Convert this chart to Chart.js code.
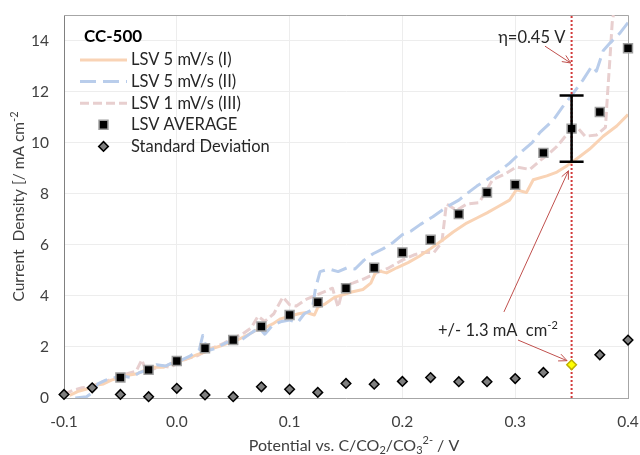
<!DOCTYPE html>
<html>
<head>
<meta charset="utf-8">
<script src="https://cdn.jsdelivr.net/npm/chart.js@4.4.1/dist/chart.umd.min.js"></script>
<style>
  html, body { margin: 0; padding: 0; background: #ffffff; }
  #wrap { width: 640px; height: 455px; }
</style>
</head>
<body>
<div id="wrap"><canvas id="lsv" width="640" height="455"></canvas></div>
<script>
// ---- LSV run I : 5 mV/s ----
const lsv1Potential = [-0.095, -0.088, -0.08, -0.072, -0.065, -0.058, -0.05, -0.042, -0.035, -0.028, -0.02, -0.012, -0.005,
  0.003, 0.01, 0.018, 0.025, 0.032, 0.04, 0.048, 0.055, 0.062, 0.07, 0.078, 0.085, 0.092, 0.1, 0.108, 0.115, 0.122, 0.125,
  0.132, 0.14, 0.148, 0.155, 0.165, 0.172, 0.177, 0.186, 0.195, 0.205, 0.215, 0.225, 0.236, 0.245, 0.257, 0.266, 0.275,
  0.285, 0.295, 0.301, 0.31, 0.316, 0.328, 0.337, 0.346, 0.357, 0.366, 0.378, 0.39, 0.4];
const lsv1Current = [0.1, 0.25, 0.35, 0.5, 0.55, 0.7, 0.8, 0.9, 0.95, 1.1, 1.2, 1.2, 1.35,
  1.45, 1.55, 1.7, 1.8, 1.95, 2.05, 2.2, 2.3, 2.45, 2.65, 2.75, 2.9, 3.1, 3.2, 3.3, 3.35, 3.25, 3.55,
  3.7, 3.95, 4.05, 4.15, 4.25, 4.5, 5.0, 4.9, 5.1, 5.3, 5.55, 5.85, 6.2, 6.5, 6.85, 7.05, 7.25,
  7.5, 7.75, 8.15, 8.05, 8.55, 8.7, 8.85, 9.1, 9.45, 9.75, 10.25, 10.65, 11.1];

// ---- LSV run II : 5 mV/s ----
const lsv2Potential = [-0.09, -0.08, -0.075, -0.07, -0.063, -0.055, -0.047, -0.04, -0.033, -0.025, -0.018, -0.01, -0.003,
  0.005, 0.012, 0.02, 0.023, 0.027, 0.035, 0.043, 0.05, 0.058, 0.066, 0.073, 0.078, 0.085, 0.093, 0.1, 0.107, 0.113, 0.12,
  0.123, 0.127, 0.135, 0.143, 0.151, 0.158, 0.166, 0.174, 0.183, 0.192, 0.2, 0.208, 0.216, 0.227, 0.24, 0.25, 0.257,
  0.266, 0.275, 0.285, 0.295, 0.307, 0.315, 0.322, 0.334, 0.342, 0.35, 0.36, 0.368, 0.372, 0.378, 0.384, 0.393, 0.4];
const lsv2Current = [0.0, 0.05, 0.2, 0.55, 0.7, 0.8, 0.85, 0.8, 1.0, 1.1, 1.3, 1.25, 1.4,
  1.5, 1.65, 1.9, 2.45, 1.85, 1.95, 2.15, 2.25, 2.3, 2.55, 2.75, 2.5, 2.85, 3.0, 3.05, 2.95, 3.3, 3.45,
  4.3, 4.95, 5.05, 4.95, 5.1, 5.05, 5.4, 5.65, 5.85, 6.1, 6.4, 6.55, 6.8, 7.1, 7.5, 7.75, 8.0,
  8.3, 8.55, 8.85, 9.2, 9.7, 10.0, 10.4, 10.9, 11.4, 11.85, 12.45, 13.0, 12.8, 13.6, 13.9, 14.3, 14.7];

// ---- LSV run III : 1 mV/s ----
const lsv3Potential = [-0.1, -0.092, -0.084, -0.076, -0.068, -0.06, -0.052, -0.044, -0.036, -0.031, -0.027, -0.02, -0.012,
  -0.006, 0.002, 0.01, 0.018, 0.026, 0.034, 0.042, 0.05, 0.058, 0.066, 0.072, 0.078, 0.086, 0.094, 0.1, 0.106, 0.114,
  0.122, 0.13, 0.138, 0.143, 0.148, 0.156, 0.165, 0.177, 0.188, 0.2, 0.21, 0.218, 0.228, 0.235, 0.239, 0.248, 0.257,
  0.268, 0.28, 0.292, 0.301, 0.313, 0.322, 0.328, 0.337, 0.349, 0.356, 0.362, 0.372, 0.38, 0.382, 0.384, 0.386, 0.387];
const lsv3Current = [0.15, 0.3, 0.4, 0.45, 0.6, 0.7, 0.8, 0.95, 1.05, 1.5, 1.0, 1.15, 1.25,
  1.2, 1.4, 1.55, 1.65, 1.85, 2.0, 2.15, 2.35, 2.5, 2.75, 3.2, 3.0, 3.3, 3.95, 3.65, 3.6, 3.85,
  4.0, 4.15, 4.3, 3.55, 4.4, 4.5, 4.65, 4.9, 5.1, 5.4, 5.6, 5.7, 5.7, 6.1, 7.6, 7.35, 7.6,
  7.65, 8.55, 8.8, 9.05, 8.95, 9.3, 9.5, 9.85, 10.5, 10.55, 10.25, 10.3, 10.6, 12.0, 13.3, 14.7, 15.0];

// ---- averaged LSV and its standard deviation ----
const avgPotential = [-0.05, -0.025, 0, 0.025, 0.05, 0.075, 0.1, 0.125, 0.15, 0.175, 0.2, 0.225, 0.25, 0.275, 0.3,
  0.325, 0.35, 0.375, 0.4];
const avgCurrent = [0.8, 1.1, 1.45, 1.95, 2.27, 2.8, 3.25, 3.75, 4.3, 5.1, 5.7, 6.2, 7.2, 8.05, 8.35,
  9.6, 10.55, 11.2, 13.7];
const sdPotential = [-0.1, -0.075, -0.05, -0.025, 0, 0.025, 0.05, 0.075, 0.1, 0.125, 0.15, 0.175, 0.2, 0.225, 0.25,
  0.275, 0.3, 0.325, 0.35, 0.375, 0.4];
const sdValue = [0.14, 0.4, 0.14, 0.05, 0.38, 0.12, 0.05, 0.44, 0.34, 0.22, 0.57, 0.54, 0.65, 0.8, 0.64,
  0.64, 0.76, 1.0, 1.3, 1.69, 2.27];

// operating point (η = 0.45 V) and its spread
const markerPotential = 0.35;
const markerSpread = 1.3;

// axes
const xTicks = [-0.1, 0.0, 0.1, 0.2, 0.3, 0.4];
const yTicks = [0, 2, 4, 6, 8, 10, 12, 14];
const yMax = 15;

const FONT = "Lato, 'Open Sans', sans-serif";
const TEXT = '#404040';
const ANNOT = '#C0504D';

const toXY = (xs, ys) => xs.map((x, i) => ({ x, y: ys[i] }));
const markerIndex = sdPotential.findIndex(p => Math.abs(p - markerPotential) < 1e-9);
const markerMean = avgCurrent[avgPotential.findIndex(p => Math.abs(p - markerPotential) < 1e-9)];

const curveStyle = { type: 'line', showLine: true, pointRadius: 0, borderWidth: 3, tension: 0, fill: false, borderCapStyle: 'butt', borderJoinStyle: 'round' };

const datasets = [
  { label: 'LSV AVERAGE', type: 'scatter', data: toXY(avgPotential, avgCurrent), pointStyle: 'rect',
    pointRadius: 6.3, pointBackgroundColor: '#000000', pointBorderColor: '#9E9E9E', pointBorderWidth: 1.5,
    order: 1, clip: false, legendKind: 'rect' },
  { label: 'Standard Deviation', type: 'scatter', data: toXY(sdPotential, sdValue), pointStyle: 'rectRot',
    pointRadius: 4.8,
    pointBackgroundColor: sdPotential.map((p, i) => i === markerIndex ? '#FFFF00' : '#7F7F7F'),
    pointBorderColor: sdPotential.map((p, i) => i === markerIndex ? '#BFB000' : '#000000'),
    pointBorderWidth: 1.5, order: 1, clip: false, legendKind: 'rectRot' },
  { label: '', type: 'line', data: [{ x: markerPotential, y: 0 }, { x: markerPotential, y: yMax }],
    borderColor: '#D23B3B', borderWidth: 2, borderDash: [2, 2], pointRadius: 0, order: 2, legendKind: null },
  Object.assign({}, curveStyle, { label: 'LSV 5 mV/s (I)', data: toXY(lsv1Potential, lsv1Current), borderColor: '#F9D3B5',
    order: 4, legendKind: 'line' }),
  Object.assign({}, curveStyle, { label: 'LSV 5 mV/s (II)', data: toXY(lsv2Potential, lsv2Current), borderColor: '#B9CDEB',
    borderDash: [16, 7], order: 3, legendKind: 'line' }),
  Object.assign({}, curveStyle, { label: 'LSV 1 mV/s (III)', data: toXY(lsv3Potential, lsv3Current), borderColor: '#E8CFCF',
    borderDash: [9, 4], order: 5, legendKind: 'line' })
];

// draw a run of text pieces with sub/superscripts
function drawRich(ctx, parts, x, y, align, size) {
  const small = Math.round(size * 0.68);
  const fontFor = p => (p.s ? small : size) + 'px ' + FONT;
  let total = 0;
  parts.forEach(p => { ctx.font = fontFor(p); total += ctx.measureText(p.t).width; });
  let cx = align === 'center' ? x - total / 2 : (align === 'right' ? x - total : x);
  ctx.textAlign = 'left';
  ctx.textBaseline = 'middle';
  parts.forEach(p => {
    ctx.font = fontFor(p);
    const dy = p.s === 'sub' ? size * 0.28 : (p.s === 'sup' ? -size * 0.32 : 0);
    ctx.fillText(p.t, cx, y + dy);
    cx += ctx.measureText(p.t).width;
  });
}

function arrow(ctx, x1, y1, x2, y2) {
  const a = Math.atan2(y2 - y1, x2 - x1);
  const L = 9, w = 0.42;
  ctx.beginPath();
  ctx.moveTo(x1, y1); ctx.lineTo(x2, y2);
  ctx.moveTo(x2 - L * Math.cos(a - w), y2 - L * Math.sin(a - w));
  ctx.lineTo(x2, y2);
  ctx.lineTo(x2 - L * Math.cos(a + w), y2 - L * Math.sin(a + w));
  ctx.stroke();
}

const decorations = {
  id: 'decorations',
  beforeDatasetsDraw(chart) {
    const { ctx, chartArea: a } = chart;
    ctx.save();
    ctx.strokeStyle = '#A6A6A6';
    ctx.lineWidth = 1;
    ctx.beginPath();
    ctx.moveTo(a.left, a.top + 0.5); ctx.lineTo(a.right + 0.5, a.top + 0.5); ctx.lineTo(a.right + 0.5, a.bottom);
    ctx.stroke();
    ctx.restore();
  },
  afterDatasetsDraw(chart) {
    const { ctx, scales: { x, y } } = chart;
    ctx.save();
    // error bar at the operating point
    const ex = x.getPixelForValue(markerPotential);
    const eHi = y.getPixelForValue(markerMean + markerSpread);
    const eLo = y.getPixelForValue(markerMean - markerSpread);
    ctx.strokeStyle = '#000000';
    ctx.lineWidth = 2.5;
    ctx.beginPath();
    ctx.moveTo(ex, eHi); ctx.lineTo(ex, eLo);
    ctx.moveTo(ex - 12, eHi); ctx.lineTo(ex + 12, eHi);
    ctx.moveTo(ex - 12, eLo); ctx.lineTo(ex + 12, eLo);
    ctx.stroke();

    // callouts
    ctx.strokeStyle = ANNOT;
    ctx.lineWidth = 1;
    const P = (vx, vy) => [x.getPixelForValue(vx), y.getPixelForValue(vy)];
    let s = P(0.3264, 13.78), e = P(0.3492, 13.12);
    arrow(ctx, s[0], s[1], e[0], e[1]);
    s = P(0.2900, 3.37); e = P(0.3472, 8.9);
    arrow(ctx, s[0], s[1], e[0], e[1]);
    s = P(0.3025, 2.27); e = P(0.3460, 1.46);
    arrow(ctx, s[0], s[1], e[0], e[1]);

    ctx.fillStyle = '#262626';
    const t1 = P(0.3445, 14.12);
    drawRich(ctx, [{ t: 'η=0.' + (markerPotential + 0.1).toFixed(2).slice(2) + ' V' }], t1[0], t1[1], 'right', 16.5);
    const t2 = P(0.2316, 2.63);
    drawRich(ctx, [{ t: '+/- ' + markerSpread.toFixed(1) + ' mA  cm' }, { t: '-2', s: 'sup' }], t2[0], t2[1], 'left', 16.5);
    ctx.restore();
  },
  afterDraw(chart) {
    const { ctx, chartArea: a } = chart;
    ctx.save();
    ctx.fillStyle = TEXT;
    // axis titles
    drawRich(ctx, [{ t: 'Potential vs. C/CO' }, { t: '2', s: 'sub' }, { t: '/CO' }, { t: '3', s: 'sub' },
      { t: '2-', s: 'sup' }, { t: ' / V' }], (a.left + a.right) / 2 + 8, 446, 'center', 16);
    ctx.save();
    ctx.translate(19, (a.top + a.bottom) / 2);
    ctx.rotate(-Math.PI / 2);
    drawRich(ctx, [{ t: 'Current  Density [/ mA cm' }, { t: '-2', s: 'sup' }], 0, 0, 'center', 15.5);
    ctx.restore();

    // legend block
    ctx.fillStyle = '#000000';
    ctx.font = 'bold 17px ' + FONT;
    ctx.textAlign = 'left';
    ctx.textBaseline = 'middle';
    ctx.fillText('CC-500', 84, 37);
    const rows = ['LSV 5 mV/s (I)', 'LSV 5 mV/s (II)', 'LSV 1 mV/s (III)', 'LSV AVERAGE', 'Standard Deviation'];
    rows.forEach((name, r) => {
      const ds = chart.data.datasets.find(d => d.label === name);
      const cy = 60 + r * 21.6;
      const x0 = 80, x1 = 127, cx = (x0 + x1) / 2;
      ctx.save();
      if (ds.legendKind === 'line') {
        ctx.strokeStyle = ds.borderColor;
        ctx.lineWidth = ds.borderWidth;
        ctx.setLineDash(ds.borderDash || []);
        ctx.beginPath(); ctx.moveTo(x0, cy); ctx.lineTo(x1, cy); ctx.stroke();
      } else {
        ctx.fillStyle = ds.legendKind === 'rect' ? '#000000' : '#7F7F7F';
        ctx.strokeStyle = ds.legendKind === 'rect' ? '#9E9E9E' : '#000000';
        ctx.lineWidth = ds.pointBorderWidth;
        ctx.beginPath();
        if (ds.legendKind === 'rect') {
          const h = ds.pointRadius * Math.SQRT1_2;
          ctx.rect(cx - h, cy - h, 2 * h, 2 * h);
        } else {
          const r = ds.pointRadius;
          ctx.moveTo(cx, cy - r); ctx.lineTo(cx + r, cy); ctx.lineTo(cx, cy + r); ctx.lineTo(cx - r, cy); ctx.closePath();
        }
        ctx.fill(); ctx.stroke();
      }
      ctx.restore();
      ctx.fillStyle = '#262626';
      ctx.font = '16.5px ' + FONT;
      ctx.fillText(name, 131, cy);
    });
    ctx.restore();
  }
};

const noEdgePadding = s => { s.paddingTop = 0; s.paddingBottom = 0; s.paddingLeft = 0; s.paddingRight = 0; };

new Chart(document.getElementById('lsv'), {
  data: { datasets },
  options: {
    responsive: false,
    animation: false,
    devicePixelRatio: 1,
    events: [],
    layout: { padding: { top: 15, right: 12, left: 0, bottom: 0 } },
    plugins: { legend: { display: false }, tooltip: { enabled: false } },
    scales: {
      x: {
        type: 'linear', min: xTicks[0], max: xTicks[xTicks.length - 1],
        afterFit: s => { s.height = 57; noEdgePadding(s); },
        afterBuildTicks: s => { s.ticks = xTicks.map(v => ({ value: v })); },
        ticks: { color: TEXT, font: { family: FONT, size: 15.5 }, padding: 15,
          callback: v => (Math.abs(v) < 1e-9 ? 0 : v).toFixed(1) },
        grid: { color: '#EDEDED', drawTicks: false },
        border: { color: '#A6A6A6', width: 1 }
      },
      y: {
        type: 'linear', min: 0, max: yMax,
        afterFit: s => { s.width = 64; noEdgePadding(s); },
        afterBuildTicks: s => { s.ticks = yTicks.map(v => ({ value: v })); },
        ticks: { color: TEXT, font: { family: FONT, size: 15.5 }, padding: 15, callback: v => String(v) },
        grid: { color: '#EDEDED', drawTicks: false },
        border: { color: '#808080', width: 1 }
      }
    }
  },
  plugins: [decorations]
});
</script>
</body>
</html>
